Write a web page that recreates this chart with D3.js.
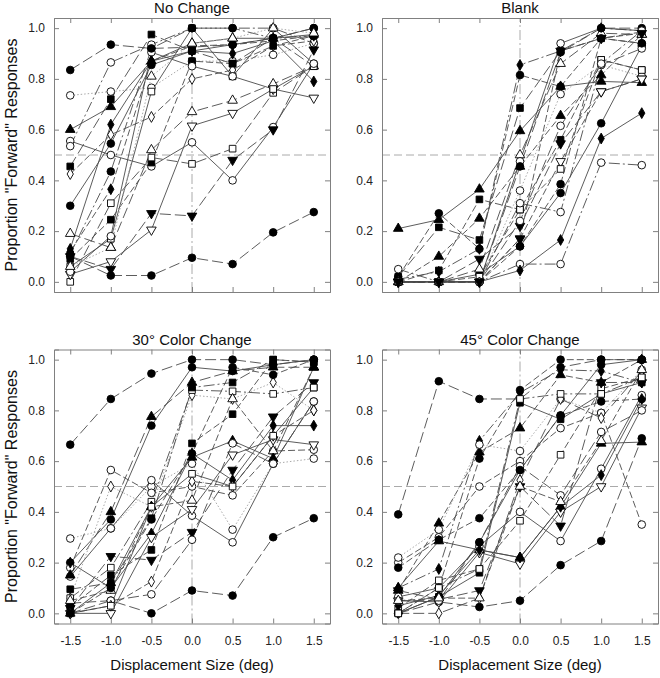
<!DOCTYPE html>
<html><head><meta charset="utf-8">
<script src="https://cdn.jsdelivr.net/npm/d3@7"></script>
<style>html,body{margin:0;padding:0;background:#fff}svg{display:block}</style>
</head><body><svg id="c" width="660" height="678"></svg>
<script>
const xValues = [-1.5, -1.0, -0.5, 0.0, 0.5, 1.0, 1.5];
const xTickLabels = ["-1.5", "-1.0", "-0.5", "0.0", "0.5", "1.0", "1.5"];
const yTicks = [0, 0.2, 0.4, 0.6, 0.8, 1.0];
const panelTitles = ["No Change", "Blank", "30° Color Change", "45° Color Change"];
const yTitle = 'Proportion "Forward" Responses';
const xTitle = "Displacement Size (deg)";

// series: [marker, lineStyle, values at xValues]
// markers: fc filled circle, oc open circle, fs/os square, ft/ot triangle up, fv/ov triangle down, fd/od diamond
const noChange = [
  ["fc","long",[0.835,0.935,0.92,0.925,0.935,0.96,1.0]],
  ["oc","dot",[0.735,0.75,0.765,0.87,0.87,0.895,0.94]],
  ["ft","solid",[0.60,0.69,0.87,0.94,0.96,0.96,0.975]],
  ["oc","solid",[0.555,0.50,0.455,0.55,0.40,0.61,0.86]],
  ["oc","dashdot",[0.535,0.865,0.935,1.0,1.0,1.0,0.94]],
  ["fs","long",[0.455,0.72,0.975,0.91,0.86,0.96,0.85]],
  ["od","dash",[0.425,0.58,0.65,0.80,0.835,0.93,0.95]],
  ["fc","solid",[0.30,0.545,0.855,0.91,0.935,0.96,1.0]],
  ["ot","long",[0.19,0.135,0.52,0.67,0.715,0.78,0.85]],
  ["fd","solid",[0.13,0.62,0.87,0.91,0.90,0.95,0.79]],
  ["fs","dash",[0.09,0.245,0.47,0.87,0.86,0.93,0.97]],
  ["os","long",[0.0,0.31,0.49,0.465,0.525,0.745,0.85]],
  ["ov","solid",[0.03,0.08,0.205,0.615,0.665,0.76,0.725]],
  ["fv","long",[0.10,0.05,0.27,0.26,0.48,0.60,0.915]],
  ["fc","long",[0.10,0.025,0.025,0.095,0.07,0.195,0.275]],
  ["os","solid",[0.06,0.17,0.75,1.0,0.81,0.76,0.85]],
  ["oc","solid",[0.04,0.18,0.905,0.85,0.81,1.0,0.86]],
  ["fd","dash",[0.12,0.365,0.87,0.93,0.935,0.95,0.97]],
  ["fc","dashdot",[0.11,0.435,0.92,1.0,1.0,0.96,0.97]],
  ["ot","dot",[0.06,0.135,0.81,0.94,0.96,1.0,0.98]]
];
const blank = [
  ["ft","solid",[0.21,0.245,0.365,0.595,0.77,0.79,0.785]],
  ["fc","dash",[0.02,0.27,0.13,0.815,0.77,0.96,0.94]],
  ["fs","long",[0.02,0.215,0.165,0.685,0.91,0.96,0.985]],
  ["fd","dashdot",[0.01,0.04,0.13,0.855,0.91,1.0,0.99]],
  ["ft","dash",[0.0,0.10,0.25,0.455,0.655,0.815,0.975]],
  ["fs","dash",[0.0,0.045,0.325,0.285,0.56,0.875,0.835]],
  ["oc","dashdot",[0.05,0.0,0.0,0.07,0.07,0.47,0.46]],
  ["fd","solid",[0.0,0.0,0.0,0.045,0.165,0.565,0.665]],
  ["fc","solid",[0.0,0.0,0.03,0.14,0.35,0.625,0.93]],
  ["oc","dot",[0.0,0.0,0.0,0.36,0.74,0.855,0.81]],
  ["ot","long",[0.0,0.0,0.05,0.50,0.86,0.98,0.975]],
  ["oc","solid",[0.0,0.0,0.0,0.475,0.94,1.0,0.99]],
  ["fv","long",[0.0,0.0,0.09,0.22,0.545,0.75,0.80]],
  ["ov","dash",[0.0,0.0,0.0,0.17,0.475,0.75,0.80]],
  ["os","dash",[0.0,0.0,0.02,0.285,0.445,0.875,0.835]],
  ["fc","long",[0.0,0.0,0.0,0.455,0.905,1.0,1.0]],
  ["oc","long",[0.0,0.0,0.0,0.24,0.615,0.855,0.92]],
  ["fc","dash",[0.0,0.0,0.0,0.14,0.385,0.96,0.94]],
  ["oc","dashdot",[0.0,0.0,0.0,0.31,0.275,0.86,0.99]],
  ["fv","dash",[0.0,0.0,0.0,0.17,0.91,0.96,0.98]]
];
const color30 = [
  ["fc","long",[0.665,0.845,0.945,1.0,1.0,0.98,1.0]],
  ["fc","long",[0.04,0.05,0.0,0.09,0.07,0.30,0.375]],
  ["oc","dot",[0.295,0.335,0.50,0.59,0.33,0.59,0.61]],
  ["fc","solid",[0.20,0.37,0.74,0.97,0.955,0.98,1.0]],
  ["oc","dash",[0.18,0.565,0.475,0.50,0.465,0.64,0.645]],
  ["oc","solid",[0.145,0.335,0.525,0.385,0.28,0.59,0.835]],
  ["fs","dash",[0.025,0.15,0.25,0.67,0.785,1.0,0.99]],
  ["ft","long",[0.15,0.40,0.775,0.91,0.955,0.97,0.97]],
  ["od","dot",[0.06,0.50,0.42,0.86,0.845,0.91,0.80]],
  ["fd","solid",[0.20,0.10,0.315,0.63,0.525,0.74,0.74]],
  ["os","dashdot",[0.06,0.18,0.44,0.88,0.875,0.865,0.89]],
  ["fv","long",[0.02,0.225,0.21,0.32,0.565,0.775,0.91]],
  ["ov","solid",[0.0,0.0,0.30,0.41,0.625,0.685,0.665]],
  ["ot","dash",[0.05,0.09,0.42,0.445,0.845,0.64,0.97]],
  ["ft","solid",[0.0,0.12,0.42,0.615,0.68,0.61,0.97]],
  ["oc","long",[0.0,0.05,0.075,0.29,0.67,0.59,0.835]],
  ["od","dash",[0.0,0.03,0.125,0.52,0.50,0.70,0.80]],
  ["fs","dashdot",[0.095,0.12,0.375,0.89,0.91,1.0,0.99]],
  ["os","solid",[0.0,0.03,0.42,0.55,0.50,0.70,0.89]],
  ["fc","dash",[0.0,0.10,0.37,0.63,0.97,0.94,1.0]]
];
const color45 = [
  ["fc","long",[0.39,0.915,0.845,0.845,0.97,1.0,1.0]],
  ["fc","long",[0.0,0.045,0.025,0.05,0.19,0.285,0.69]],
  ["oc","dash",[0.20,0.30,0.50,0.60,0.73,0.79,0.35]],
  ["fc","dash",[0.18,0.29,0.375,0.565,0.78,0.835,0.845]],
  ["ft","solid",[0.10,0.285,0.25,0.22,0.42,0.67,0.675]],
  ["ft","dash",[0.09,0.355,0.635,0.73,0.94,0.91,1.0]],
  ["fd","dashdot",[0.10,0.175,0.68,0.87,0.96,0.955,0.91]],
  ["oc","dot",[0.22,0.33,0.665,0.64,0.845,0.79,0.96]],
  ["os","dash",[0.02,0.13,0.175,0.365,0.625,0.885,0.93]],
  ["fs","solid",[0.0,0.065,0.16,0.83,0.765,0.865,0.91]],
  ["fv","long",[0.09,0.055,0.09,0.50,0.345,0.91,0.91]],
  ["ov","solid",[0.05,0.045,0.24,0.195,0.40,0.50,0.81]],
  ["oc","solid",[0.065,0.10,0.265,0.40,0.285,0.57,0.86]],
  ["od","long",[0.0,0.0,0.06,0.525,0.845,0.77,0.955]],
  ["fd","solid",[0.03,0.07,0.25,0.22,0.42,0.545,0.845]],
  ["fc","dash",[0.0,0.10,0.61,0.88,1.0,1.0,1.0]],
  ["oc","long",[0.05,0.05,0.28,0.58,0.465,0.715,0.80]],
  ["fc","solid",[0.0,0.065,0.28,0.565,0.78,0.98,1.0]],
  ["os","dashdot",[0.0,0.10,0.175,0.845,0.865,0.865,0.93]],
  ["ot","dash",[0.05,0.06,0.06,0.50,0.44,0.68,0.96]]
];
const panelData = [noChange, blank, color30, color45];

const svg = d3.select("#c");
const font = "'Liberation Sans', Arial, sans-serif";
const panels = [
  {left: 54, top: 18, showY: true, showX: false},
  {left: 382, top: 18, showY: false, showX: false},
  {left: 54, top: 349.5, showY: true, showX: true},
  {left: 382, top: 349.5, showY: false, showX: true}
];
const W = 276, H = 274;
const dashes = {solid: null, long: "11,4", dash: "7,3", dashdot: "11,3,2,3", dot: "1.5,2"};
const shapes = {c: d3.symbolCircle, s: d3.symbolSquare, t: d3.symbolTriangle, v: d3.symbolTriangle, d: d3.symbolDiamond};
const sizes = {c: 46, s: 44, t: 40, v: 40, d: 34};

panels.forEach((p, i) => {
  const x = d3.scaleLinear().domain([-1.7, 1.7]).range([p.left, p.left + W]);
  const y = d3.scaleLinear().domain([-0.04, 1.04]).range([p.top + H, p.top]);
  const g = svg.append("g");

  // reference lines
  g.append("line").attr("x1", x(-1.7)).attr("x2", x(1.7)).attr("y1", y(0.5)).attr("y2", y(0.5))
    .attr("stroke", "#aaa").attr("stroke-width", 1).attr("stroke-dasharray", "8,4");
  g.append("line").attr("x1", x(0)).attr("x2", x(0)).attr("y1", y(-0.04)).attr("y2", y(1.04))
    .attr("stroke", "#aaa").attr("stroke-width", 1).attr("stroke-dasharray", "10,3,2,3");

  // axes (inward ticks on four sides)
  const ax = [
    d3.axisBottom(x).tickValues(xValues).tickSize(-5).tickFormat((d, k) => p.showX ? xTickLabels[k] : ""),
    d3.axisTop(x).tickValues(xValues).tickSize(-5).tickFormat(""),
    d3.axisLeft(y).tickValues(yTicks).tickSize(-5).tickFormat(d3.format(".1f")),
    d3.axisRight(y).tickValues(yTicks).tickSize(-5).tickFormat("")
  ];
  const pos = [`translate(0,${p.top + H})`, `translate(0,${p.top})`, `translate(${p.left},0)`, `translate(${p.left + W},0)`];
  ax.forEach((a, k) => {
    const ag = g.append("g").attr("transform", pos[k]).call(a);
    ag.select(".domain").attr("stroke", "#808080");
    ag.selectAll(".tick line").attr("stroke", "#808080");
    ag.selectAll("text").attr("font-family", font).attr("font-size", 12).attr("fill", "#222");
    if (k === 0) ag.selectAll("text").attr("dy", "1.55em");
    if (k === 2) ag.selectAll("text").attr("x", -9);
  });

  // title
  g.append("text").attr("x", x(0)).attr("y", p.top - 5).attr("text-anchor", "middle")
    .attr("font-family", font).attr("font-size", 15).attr("fill", "#111").text(panelTitles[i]);
  if (p.showY) {
    g.append("text").attr("transform", `translate(17,${p.top + H / 2}) rotate(-90)`)
      .attr("text-anchor", "middle").attr("font-family", font).attr("font-size", 16).attr("fill", "#111").text(yTitle);
  }
  if (p.showX) {
    g.append("text").attr("x", x(0)).attr("y", p.top + H + 46).attr("text-anchor", "middle")
      .attr("font-family", font).attr("font-size", 15).attr("fill", "#111").text(xTitle);
  }

  const series = panelData[i];
  const line = d3.line().x((d, k) => x(xValues[k])).y(d => y(d));
  const lg = g.append("g");
  series.forEach(s => {
    const dot = s[1] === "dot";
    lg.append("path").attr("d", line(s[2])).attr("fill", "none")
      .attr("stroke", dot ? "#aaa" : "#4a4a4a").attr("stroke-width", dot ? 1 : 0.9)
      .attr("stroke-dasharray", dashes[s[1]]);
  });
  const mg = g.append("g");
  series.forEach(s => {
    const filled = s[0][0] === "f";
    const sh = s[0][1];
    const sym = d3.symbol().type(shapes[sh]).size(sizes[sh]);
    s[2].forEach((v, k) => {
      mg.append("path").attr("d", sym())
        .attr("transform", `translate(${x(xValues[k])},${y(v)})` + (sh === "v" ? " rotate(180)" : ""))
        .attr("fill", filled ? "#000" : "#fff").attr("stroke", "#000").attr("stroke-width", 0.9);
    });
  });
});
</script></body></html>
